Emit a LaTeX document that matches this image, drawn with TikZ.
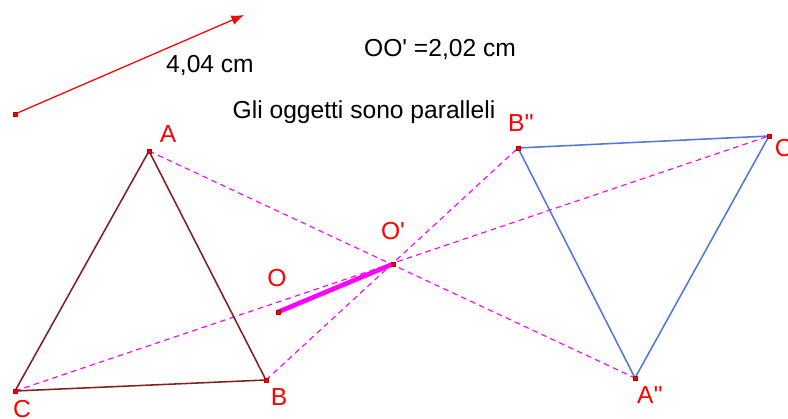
\documentclass[tikz,border=0pt]{standalone}
\usepackage{fontspec}
\setmainfont{Liberation Sans}[Ligatures=TeXOff]
\usetikzlibrary{arrows.meta}
\definecolor{brun}{RGB}{128,32,32}
\definecolor{bleu}{RGB}{80,120,220}
\definecolor{magenta}{RGB}{255,0,255}
\begin{document}
\begin{tikzpicture}[
    x=0.025cm, y=-0.025cm,
    every node/.style={font=\fontsize{17.5}{20}\selectfont},
    lettre/.style={text=red},
    point/.style={draw=red!70!black, fill=red, rectangle, inner sep=0pt, minimum size=1mm},
    tirets/.style={magenta, line width=0.8pt, dash pattern=on 4pt off 3pt},
    cote/.style={line width=1.1pt}
]
% cadre
\clip (0,0) rectangle (788,419);
% Points
\coordinate (A) at (149,151);
\coordinate (B) at (266,380);
\coordinate (C) at (15,391);
\coordinate (A2) at (635,378);
\coordinate (B2) at (518,148);
\coordinate (C2) at (769,136);
\coordinate (O) at (278,312);
\coordinate (O1) at (393,264);
\coordinate (V1) at (15,114);
\coordinate (V2) at (244,15);
% Vecteur
\draw[red, line width=0.9pt, -{Latex[length=9pt,width=7pt]}] (V1) -- (V2);
\node (long) at (210,65) {4,04 cm};
\node (dist) at (440,49) {OO' =2,02 cm};
\node (para) at (364,112) {Gli oggetti sono paralleli};
% Symétrie de centre O'
\draw[tirets] (A) -- (A2);
\draw[tirets] (B) -- (B2);
\draw[tirets] (C) -- (C2);
\draw[brun, cote] (A) -- (B) -- (C) -- cycle;
\draw[bleu, cote] (A2) -- (B2) -- (C2) -- cycle;
\draw[magenta, line width=3.3pt] (O) -- (O1);
\foreach \p in {A,B,C,A2,B2,C2,O,O1,V1}
    \node[point] at (\p) {};
% Etiquettes
\node[lettre] (lA) at (168,134) {A};
\node[lettre] (lB) at (279,397) {B};
\node[lettre] (lC) at (22,409) {C};
\node[lettre] (lA2) at (650,395) {A''};
\node[lettre] (lB2) at (521,123) {B''};
\node[lettre, anchor=west] (lC2) at (770,148) {C''};
\node[lettre] (lO) at (277,278) {O};
\node[lettre] (lO1) at (393,231) {O'};
\end{tikzpicture}
\end{document}
